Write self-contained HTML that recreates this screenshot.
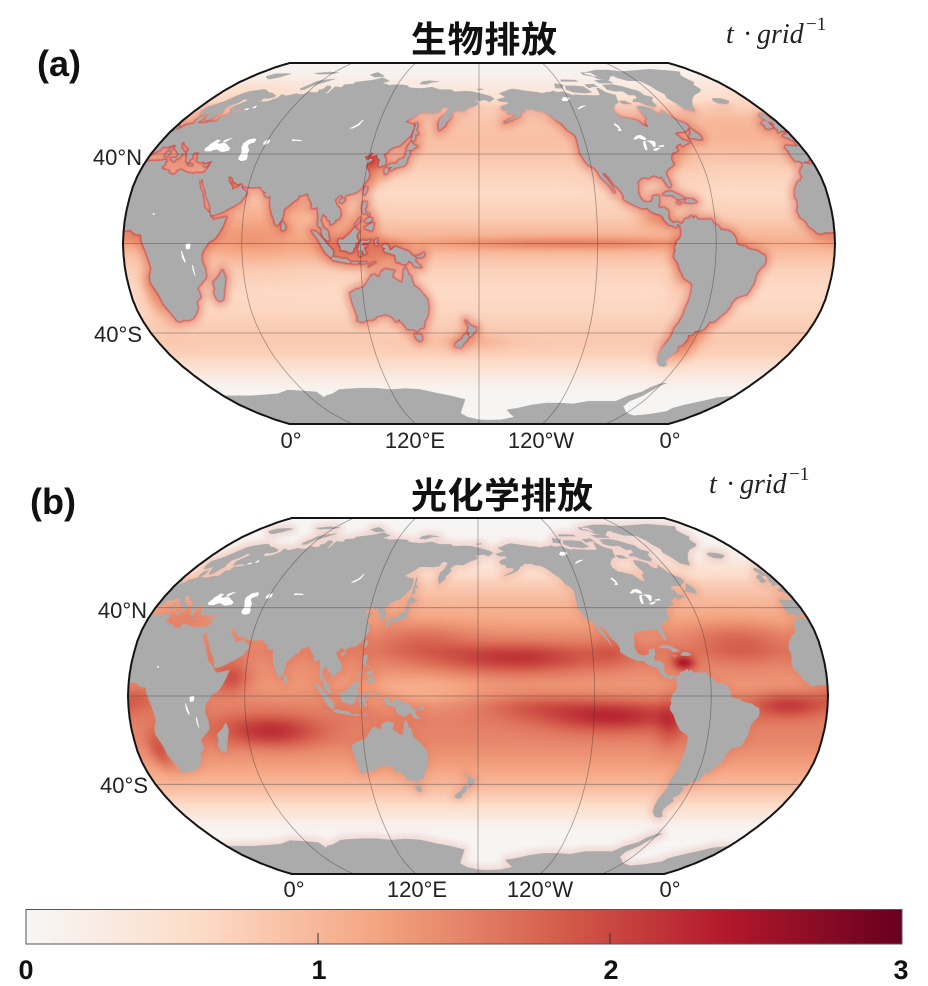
<!DOCTYPE html>
<html><head><meta charset="utf-8">
<style>
html,body{margin:0;padding:0;background:#fff;}
#wrap{position:relative;width:928px;height:986px;overflow:hidden;background:#fff;}
#cv{position:absolute;left:0;top:0;}
#sv{position:absolute;left:0;top:0;}
</style></head>
<body><div id="wrap">
<canvas id="cv" width="928" height="986"></canvas>
<svg id="sv" width="928" height="986" viewBox="0 0 928 986" xmlns="http://www.w3.org/2000/svg">
<defs id="defs">
  <linearGradient id="cb" x1="0" x2="1" y1="0" y2="0">
    <stop offset="0" stop-color="#f7f7f7"/>
    <stop offset="0.2" stop-color="#fddbc7"/>
    <stop offset="0.4" stop-color="#f4a582"/>
    <stop offset="0.6" stop-color="#d6604d"/>
    <stop offset="0.8" stop-color="#b2182b"/>
    <stop offset="1" stop-color="#67001f"/>
  </linearGradient>
  <linearGradient id="mgA" gradientUnits="userSpaceOnUse" x1="0" y1="63" x2="0" y2="424">
    <stop offset="0" stop-color="#000"/>
    <stop offset="0.105" stop-color="#000"/>
    <stop offset="0.17" stop-color="#fff"/>
    <stop offset="0.77" stop-color="#fff"/>
    <stop offset="0.85" stop-color="#000"/>
    <stop offset="1" stop-color="#000"/>
  </linearGradient>
  <mask id="maskA" maskUnits="userSpaceOnUse" x="0" y="0" width="928" height="470">
    <rect x="0" y="0" width="928" height="470" fill="url(#mgA)"/>
  </mask>
  <filter id="bl" x="-5%" y="-5%" width="110%" height="110%"><feGaussianBlur stdDeviation="0.9"/></filter>
  <filter id="bw" x="-5%" y="-5%" width="110%" height="110%"><feGaussianBlur stdDeviation="3.5"/></filter>
</defs>
<g id="mapA"></g>
<g id="mapB"></g>

<!-- panel a text -->
<text x="37" y="76" font-family="'Liberation Sans',Arial,sans-serif" font-weight="bold" font-size="36" fill="#111">(a)</text>
<text x="411" y="52" font-family="'Liberation Sans','Noto Sans CJK SC',sans-serif" font-weight="bold" font-size="36" fill="#111" textLength="146" lengthAdjust="spacing">生物排放</text>
<text font-family="'Liberation Serif',serif" font-style="italic" font-size="28" fill="#222"><tspan x="726" y="43">t</tspan><tspan x="743" y="43" font-style="normal">·</tspan><tspan x="757" y="43">grid</tspan><tspan x="806" y="30" font-size="19" font-style="normal">−1</tspan></text>
<g font-family="'Liberation Sans',Arial,sans-serif" font-size="22" fill="#222">
  <text x="142" y="165" text-anchor="end">40°N</text>
  <text x="142" y="342" text-anchor="end">40°S</text>
  <text x="291" y="448" text-anchor="middle">0°</text>
  <text x="415" y="448" text-anchor="middle">120°E</text>
  <text x="541" y="448" text-anchor="middle">120°W</text>
  <text x="670" y="448" text-anchor="middle">0°</text>
</g>

<!-- panel b text -->
<text x="30" y="514" font-family="'Liberation Sans',Arial,sans-serif" font-weight="bold" font-size="36" fill="#111">(b)</text>
<text x="411" y="508" font-family="'Liberation Sans','Noto Sans CJK SC',sans-serif" font-weight="bold" font-size="36" fill="#111" textLength="182" lengthAdjust="spacing">光化学排放</text>
<text font-family="'Liberation Serif',serif" font-style="italic" font-size="28" fill="#222"><tspan x="709" y="493">t</tspan><tspan x="726" y="493" font-style="normal">·</tspan><tspan x="740" y="493">grid</tspan><tspan x="789" y="480" font-size="19" font-style="normal">−1</tspan></text>
<g font-family="'Liberation Sans',Arial,sans-serif" font-size="22" fill="#222">
  <text x="147" y="618" text-anchor="end">40°N</text>
  <text x="148" y="793" text-anchor="end">40°S</text>
  <text x="294" y="897" text-anchor="middle">0°</text>
  <text x="417" y="897" text-anchor="middle">120°E</text>
  <text x="540" y="897" text-anchor="middle">120°W</text>
  <text x="670" y="897" text-anchor="middle">0°</text>
</g>

<!-- colorbar -->
<rect x="26" y="909.5" width="876" height="34.5" fill="url(#cb)" stroke="#555" stroke-width="1"/>
<line x1="318" y1="933" x2="318" y2="944" stroke="#333" stroke-width="1"/>
<line x1="610" y1="933" x2="610" y2="944" stroke="#333" stroke-width="1"/>
<g font-family="'Liberation Sans',Arial,sans-serif" font-weight="bold" font-size="27" fill="#111" text-anchor="middle">
  <text x="26" y="979">0</text>
  <text x="319" y="979">1</text>
  <text x="611" y="979">2</text>
  <text x="901" y="979">3</text>
</g>
</svg>
</div>
<script>
(function(){
const YT=[0,0.062,0.124,0.186,0.248,0.31,0.372,0.434,0.4958,0.5571,0.6176,0.6769,0.7346,0.7903,0.8435,0.8936,0.9394,0.9761,1.0];
const XT=[1,0.9986,0.9954,0.99,0.9822,0.973,0.96,0.9427,0.9216,0.8962,0.8679,0.835,0.7986,0.7597,0.7186,0.6732,0.6213,0.5722,0.5322];
function tab(T,lat){let a=Math.min(90,Math.abs(lat));let i=Math.floor(a/5);if(i>=18)return T[18];let t=(a-5*i)/5;return T[i]+(T[i+1]-T[i])*t;}
function latOf(Y){for(let i=0;i<18;i++){if(Y<=YT[i+1])return 5*(i+(Y-YT[i])/(YT[i+1]-YT[i]));}return 90;}
const MAPS=[{cx:479,cy:243.5,hw:356,hh:180.5,id:'A'},{cx:478,cy:696,hw:350,hh:178,id:'B'}];
function P(m,lon,lat){if(lon<0)lon+=360;const X=tab(XT,lat),Y=tab(YT,lat)*(lat<0?-1:1);return [m.cx+m.hw*X*(lon-180)/180, m.cy-m.hh*Y];}
function E(lon,a,b){const r=[];const s=a<b?1:-1;for(let t=a;s>0?t<=b:t>=b;t+=s)r.push(lon,t);if(r[r.length-1]!==b)r.push(lon,b);return r;}
function path(m,arr,close){let s='';for(let i=0;i<arr.length;i+=2){const p=P(m,arr[i],arr[i+1]);s+=(i?'L':'M')+p[0].toFixed(1)+' '+p[1].toFixed(1);}return s+(close===false?'':'Z');}

const AFEU=[0,5.6,3,6.3,6,4.3,9,4,9.5,1,11.8,-4.5,12.3,-6,13.5,-11,12,-15,11.8,-17.5,14.5,-23,15.2,-27,17,-30,18.3,-33.5,18.5,-34.3,20,-34.8,22,-34,25.6,-34,27.5,-33.3,30.5,-31,32.5,-28.5,32.6,-26,35.5,-24,35.3,-22,34.8,-20,36.5,-18.5,40.5,-15,40.5,-11,39.3,-8,39.2,-6,39.7,-4,41.5,-1.5,43.5,1,46,2,48,4.5,50,8,51.3,11.8,49,11.3,45,10.5,43.3,11.8,42.5,13.5,41,14.8,39.5,15.8,38.5,18.5,37.3,21,36.7,23,35.5,24,34,26.6,32.5,30,33.6,28.3,34.2,27.8,34.9,29.5,35.5,28,36.5,26,38.5,23.5,39.2,21.3,41,19,42.6,16.5,43.3,13,45,12.8,48.5,14,52,15.7,55.5,17.5,57.7,19,58.5,20.5,59.8,22.4,58.6,23.6,56.4,24.8,56.3,26.3,55,25.1,52,24,51.6,25.2,51,26,50,26.7,48.5,28.3,48,30,49.5,30,50.5,29.5,51.5,27.8,54,26.6,56.4,27.1,57.3,25.7,61.6,25.2,66.6,25.4,67.5,24,68.8,23.3,70.2,22.8,69,22.3,70.5,20.8,72.6,21.3,72.8,19,73.4,16,74.6,13,75.8,11,76.6,8.9,77.5,8.1,78.2,8.9,79.3,10.3,80,12.6,80.3,15.5,81.5,16.4,82.4,17,84.5,18.8,86.5,20,87,21.5,88.5,21.7,90,22,91.5,22.6,92.2,21,93,19.8,94.4,18,94.4,16,95.5,15.8,97.5,16.5,97.8,14.5,98.5,12,98.3,9.5,98.6,8,100.4,6.5,100.4,5,101.3,2.9,103.4,1.3,104.2,1.4,103.5,4,103.2,5.5,102.2,6.2,100.8,7,99.9,9.2,99.2,10.5,100,12.6,100.9,13.4,101.5,12.6,102.7,12,103,10.7,104.5,10.4,104.8,8.6,106.7,9.6,106.7,10.4,108.9,11.3,109.3,13,108.8,15.4,107,17,106,18.8,105.7,19.5,106.5,20.3,107.6,21.4,108.5,21.7,109.8,21.4,110.4,20.3,111,21.5,113,22.2,114.2,22.3,116.4,22.9,118.5,24.5,119.5,25.8,120.5,27.5,121.8,29.2,121.9,30.8,121.4,31.8,120.6,33,119.3,34.7,120.3,36,122.5,37.4,121,37.8,119,37.2,118,38.3,117.6,39,118.5,39.2,119.3,39.4,121,40.8,122.2,40.5,121.3,39,122.1,39.2,124.3,39.8,125.2,38,126.5,37.6,126.2,35,126.5,34.3,127.8,34.7,129.2,35.2,129.4,36,129.4,37.3,128.5,38.5,127.5,39.8,129.6,40.9,129.8,41.8,131.3,42.7,132.5,43.2,135.5,43.9,138.5,46.8,140.4,48.4,141.3,52.2,140.6,53.5,137.8,54,135.2,54.8,137.7,56.2,140.6,57.8,143,59.3,148,59.3,151,59.1,155,59.5,156.8,61.6,159,61.7,160.4,61,163.2,62.5,160,60.5,158.7,58,156.5,56.5,155.7,54,156.7,51,158,51.8,160,53.2,160,54.5,162.1,56.1,163.3,57.8,162.1,58.2,164.7,59.9,167,60.3,170.3,60,172.5,61,175,62,177.4,62.5,179,63,179.5,64.5,177.5,64.7,178.6,65.3,180,65,184,65.5,187,64.5,190.3,66.1,188,67.3,186,67.8,180.5,68.9,175,69.8,170,70.1,163,69.7,160,70.9,152,70.9,146,72.3,139,71.5,132,71.8,129,72.2,128,73.1,123,73.6,118,73.6,113.5,73.3,112,74,110,74,108,74.5,112,75.8,106,77.4,104.3,77.7,100,76.5,98,76.2,92,75.5,87,75,86.8,74,80.5,73.6,80.7,72.1,78,72.3,75.4,72.5,74.8,69,73.5,68.5,73.5,71.8,72,72.8,69,73,68.5,71,66.5,70.8,67,69.5,64.5,69.3,60.5,69.8,59,68.4,55,68.4,53.7,68.9,48,67.6,44,68.4,43.5,66.5,40,64.8,35,64.5,34.5,66.3,38,66.2,41,67,40.5,67.8,36,69.1,33,69.4,28.5,70.9,26,71,23.5,70.6,19,70,16,69,14,67.5,12.5,66,10.5,64.5,8,63.3,5,62,5,60.3,5.6,59,7,58,8,58.2,10.5,59.3,11,58.8,12,57.5,12.8,56,14,55.5,16,56.2,16.5,57.5,18.3,59.3,17.3,60.6,17.5,62.5,21,64,22.5,65.8,24.8,65.7,25.4,65,24.5,64.3,21.5,62.2,21.5,60.8,22.9,59.8,25.5,60.4,28.5,60.5,30.2,59.9,28,59.5,24,59.2,23.5,58.3,24.2,57.5,21.6,57.5,21,56.7,21.1,55.3,19.8,54.6,18.5,54.8,16.5,54.5,14.3,53.9,12.4,54.2,11,54,10.2,54.4,11,56,10.5,57.7,8.5,56.9,8.1,55.5,8.9,54,7,53.4,4.8,53,4.2,51.9,3.4,51.4,1.6,50.9,1.4,50.1,0.2,49.6]
.concat(E(0,49.5,39.8))
.concat([0.9,40.7,2.2,41.4,3.2,41.9,3.1,42.8,4,43.5,5.5,43.2,7,43.6,8.8,44.4,10.2,43.9,10.5,42.9,11.2,42.4,12.2,41.7,13.5,41.2,14,40.8,15.6,40,15.7,38.3,15.65,38,16.1,38,16.6,38.4,17.1,39.1,16.5,39.7,16.9,40.4,18.5,40.1,18,40.7,16,41.5,15.9,41.9,14,42.6,13.6,43.5,12.3,44.5,12.4,45.4,13.7,45.6,13.9,44.9,15.2,44.2,16.4,43.5,17.6,43,19.4,42,19.4,41,19.4,40.3,20.5,39.3,21.2,38.3,21.7,36.9,22.5,36.5,23.2,36.4,23.1,37.7,24,38.1,22.9,39.4,23.3,39.9,22.8,40.6,24,40.8,26,40.8,26.2,40.3,26.3,39,27.2,38.4,27.3,37,28.2,36.7,29.7,36.2,30.6,36.8,32.5,36.1,34.6,36.8,36,36.8,35.8,35.8,35.9,34.6,35.5,33.7,35,32.8,34.5,31.5,32.2,31.2,31.2,31.5,30,31.3,29,30.9,25.1,31.6,23.1,32.3,21.5,32.9,20.1,32.2,19.7,31,18.5,30.5,15.5,31.5,15.1,32.4,13,32.8,11.2,33.2,10.1,34.2,11.1,35.2,10.5,36.8,11,37,9.8,37.3,8.5,36.9,5,36.8,3,36.8,1,36.5])
.concat(E(0,35.9,5.6));

const AFW=[-0.001,35.8,-2,35.1,-5.3,35.9,-6,35.5,-6.8,34,-8.5,33.3,-9.8,31.4,-9.6,29.9,-11.5,28,-13,27.5,-14.5,26,-16,24,-17,21,-16.2,19.5,-16.3,18,-16.7,16,-17.5,14.7,-16.7,13,-16.7,12,-15,11,-13.5,9.5,-12.5,7.5,-11,6.8,-9,5,-7.5,4.4,-5,5,-3,5.1,-1.5,5,-0.001,5.6].concat(E(360,5.6,35.8));
const IBW=[-0.001,49.5,-1.2,49.4,-1.6,49.7,-1.9,48.7,-3,48.8,-4.7,48.4,-4.3,47.8,-2.5,47.3,-2.2,46.8,-1.2,46,-1.2,44.6,-1.5,43.4,-3,43.4,-5.5,43.5,-8,43.7,-9.2,43,-8.8,42,-8.8,41,-9.5,39,-8.8,37.9,-9,37,-7.5,37.1,-6.3,36.8,-5.6,36,-4.5,36.7,-2,36.7,-1.6,37.4,-0.7,37.6,-0.5,38.3,-0.3,39.4,-0.001,39.8].concat(E(360,39.8,49.5));
const GBW=E(360,50.8,53.6).concat([-0.5,54.5,-1.5,55.5,-2,56.2,-2,57.6,-3.5,58.6,-5,58.6,-6.2,57.5,-5.5,56,-4.8,54.8,-3.2,54.9,-3.3,54.2,-3,53.3,-4.6,53.2,-4.2,52.3,-5.2,51.8,-3,51.4,-4.3,51.2,-5.7,50,-3,50.6,-1,50.7]);
const GBE=E(0,53.6,50.8).concat([1.4,51.3,1.7,52.6,0.3,53.4]);

const NA=[-141,69.6,-148,70.3,-152,70.9,-156.5,71.3,-160,70.6,-163,69.6,-166,68.9,-163.5,67.7,-162,66.9,-164.5,66.5,-168,65.6,-166,64.7,-163,64.5,-161,64.4,-160.8,63.6,-163,63,-165,62.5,-166,61.5,-165,60.5,-162,59.9,-162,58.7,-158,58.7,-157,57.6,-162,55.6,-164.5,54.6,-160,55.7,-156,57,-154,58,-153,59.5,-151.5,59.5,-150,61,-148,60.5,-146,60.9,-143,60,-140,59.8,-137.5,58.8,-136,58,-134,56.5,-132,55,-130.5,54.3,-129,52.5,-128,51,-125.5,49.5,-124.3,48.3,-124,46.5,-124.2,43,-124.3,40.3,-123,38,-122.5,37,-121,35,-118.5,34,-117.1,32.5,-116,30,-114,28,-112,26,-109.9,22.9,-110.5,24.5,-112.5,28,-114.5,30.5,-114.8,31.8,-113,31.3,-111,29,-109.5,26.5,-108,25.3,-106,23,-105.3,21.5,-105.5,20,-104,19,-101,17.5,-98,16.2,-96,15.7,-94,16.1,-92.5,14.6,-91,13.9,-89,13.3,-87.5,13,-86,11.5,-85.7,10.4,-85,9.8,-83.5,8.4,-82,8.2,-80,7.3,-79.5,8.9,-78,8.3,-77.4,7.8,-77.3,8.6,-79.5,9.5,-81.5,9,-83.3,10.5,-83.7,11,-83.5,14.5,-85.5,16,-88,15.8,-88.3,17.5,-87.5,18.5,-87.4,21.5,-90.3,21,-90.5,19.5,-91.5,18.5,-94,18.2,-95.9,18.8,-97.2,20.5,-97.8,22.5,-97.4,25.5,-97.2,27.5,-95,29.2,-93.5,29.7,-91,29.3,-89,30.2,-88,30.6,-85.3,29.7,-84,30,-82.7,28,-81.8,26,-81,25.1,-80.1,25.8,-80.5,28.2,-81.3,30.5,-81,32,-78.5,33.8,-76.5,34.7,-75.5,35.5,-76,37,-75.5,38.5,-74,40.5,-72,41,-70,41.6,-70.6,43.1,-68,44.4,-66.5,44.9,-66,43.6,-63.5,44.6,-61,45.3,-64.5,46.3,-65,47.5,-66.4,49.2,-67,49.3,-64,50.2,-60,50.2,-57,51.5,-55.7,52.2,-56,53.8,-58,54.5,-60,55.5,-61.5,56.5,-62.5,58,-64.3,60.3,-65,59,-67,58.3,-68.5,58.8,-69.5,59.5,-70,61,-72,61.6,-74,62.2,-77.5,62.5,-78.2,60.8,-77.5,58.5,-76.6,56.5,-79,55,-79.5,52,-82,52.9,-84,55.2,-87.5,56,-92.5,57,-94.5,58.8,-94,61,-92,62.5,-90.5,63.5,-88,64,-87,66.5,-86,68,-89,68.8,-91.5,69.5,-94,71.8,-95.5,71.8,-96.5,68.3,-98,67.8,-102,67.8,-108,68,-110,68,-114,68.3,-115,67.8,-118,68.8,-121,69.8,-125,69.5,-128,70.2,-130,69.6,-133,69.5,-136,68.9,-139,69.5];
const SA=[-77.3,8.6,-76,9.5,-75.5,10.5,-74.5,11,-73,11.3,-72,12.3,-71.3,11.8,-71.5,10.5,-70,12,-68.5,10.5,-66,10.6,-64,10.6,-62,10.7,-61.5,9.5,-60.5,8.5,-59,8,-57.5,6,-54,5.7,-52,4.7,-51,3.5,-50,1.7,-50,0,-48.5,-1,-45,-1.5,-44,-2.5,-41.5,-3,-39,-3.5,-37,-4.8,-35.2,-5.5,-34.8,-7.5,-35.3,-9.5,-37,-11,-38.5,-13,-39,-15,-39.2,-17.7,-40.5,-20.5,-41.5,-22.5,-43,-23,-44.5,-23.3,-46.5,-24,-48.5,-26.5,-48.7,-28.5,-50,-30.5,-51.5,-31.8,-53,-33.7,-54.5,-35,-56.5,-34.8,-57,-36.5,-57.5,-38,-59,-38.7,-62,-39,-62.3,-40.5,-65,-41,-64,-42.5,-65,-45,-67.5,-46.3,-65.8,-47.8,-68,-50,-69,-52,-68.5,-53,-66.5,-55,-68,-55.5,-71,-55,-74,-53,-75.5,-50,-75.3,-46.5,-74,-43.5,-73.5,-41,-73.6,-38,-72.5,-35.5,-71.5,-32.5,-71.4,-29,-70.5,-25.5,-70.2,-21.5,-70.3,-18.5,-71.5,-17.3,-75,-15.5,-76.3,-13.5,-77.5,-11.8,-79,-8.5,-81,-6.2,-81,-4.5,-80.3,-3.4,-80.8,-2,-80,0,-80,1,-78.8,1.5,-77.5,3.5,-77.4,6,-77.8,7.3];
const ANT=E(0,-90,-70).concat([10,-70,20,-70,30,-69.5,40,-69,50,-67,60,-67.5,68,-68,70,-71,72,-70,78,-69,85,-66.8,90,-66.5,100,-66,110,-66,120,-66.8,130,-66.2,140,-66.7,150,-68.5,160,-70,165,-71,170,-72,167,-77,165,-80,170,-83,180,-85,190,-85.5,200,-85,210,-83,205,-80,202,-78,210,-77,220,-75,230,-74,240,-74,250,-74.5,260,-73,270,-73,280,-73,285,-70,292,-68,295,-65.5,300,-63.5,303,-63.5,300,-65,298,-67,295,-70,290,-73,290,-76,300,-80,310,-82,320,-81,330,-79,330,-77,335,-75,345,-72.5,350,-71]).concat(E(360,-70,-90));

const ISL=[
[-73,78.2,-67,76,-58,75.7,-55,73,-54,70.5,-51.5,68.5,-53,66.5,-50.5,64,-48.5,61,-44,60,-43,60.5,-41,63,-37,65.7,-32,68,-25,69.7,-22,71,-22,73.5,-18.5,75,-19,77,-18.5,79,-12.5,81.7,-20,82.5,-32,83.6,-45,82.8,-55,82.2,-62,81.8,-67,80.5],
[-24,65.5,-22,66.4,-17,66.2,-14.5,65.5,-13.6,65,-15,64.2,-18,63.4,-22.5,63.8,-24,64.7],
[-6,52.2,-6.2,53.5,-6,54.3,-5.5,54.6,-6.2,55.2,-7.5,55.3,-8.5,54.6,-10,54.2,-9.5,53,-10.4,51.9,-9.6,51.5,-8,51.8],
[-62,66.8,-65,65,-64.8,62.8,-66.5,62,-71,62.8,-74.5,64.5,-78,64.5,-77,65.5,-73,66.5,-73,68,-77,68,-79,70,-85,70,-89,71,-89,73.5,-82,73.8,-76,72.7,-71,71,-68,70.3,-67,69.2,-66.5,68],
[-62,82,-70,83,-80,83,-90,81.5,-95,80,-90,79,-88,77,-80,76.5,-76,78.5,-72,78.8,-68,80.2],
[-86,78,-96,79.5,-96,81,-88,81],
[-80,74.5,-90,74.5,-92,76,-82,76.7],
[-101,69.5,-106,69,-114,69.5,-118,71,-117,73,-110,73,-104,72.5],
[-120,71.5,-125,71.8,-124,74.3,-118,73.5],
[-105,75.5,-118,75.5,-117,76.5,-106,76.3],
[-97,72.5,-101,71.8,-102,73.7,-95,74,-94,72.5],
[-80,63.5,-86,63.5,-87,65,-83,65],
[-59.5,47.6,-53,46.6,-52.8,48.5,-55.5,51.5,-57,49.5],
[-85,21.9,-83,23,-80.5,23.2,-77.5,22,-74.2,20.3,-77.7,19.9,-80,21.6,-82.5,21.7],
[-74.4,18.5,-72.8,19.9,-70,19.7,-68.4,18.6,-71,18.2],
[-78.3,18.4,-76.3,18.2,-76.8,17.8,-78.2,18.2],
[113.5,-22,114,-26,115,-30,115.7,-33.3,115,-34.3,117.9,-35.1,120,-34,123.6,-33.9,126,-32.3,131,-31.5,134,-32.8,135.7,-34.9,137.5,-33.5,138,-34.8,139.5,-35.8,141,-38.2,144,-38.2,146.3,-39.1,148,-37.8,150,-37.5,150.8,-34.5,152.5,-32.5,153.5,-28.5,153,-25,150.8,-22.5,149,-20.5,146.3,-18.8,145.4,-16,145.3,-14.8,143.8,-14,143.5,-12.7,142.5,-10.7,141.6,-12.8,141.5,-15,140.8,-17.5,139.3,-17.4,137,-15.9,135.5,-15,135.9,-13.3,136.8,-12.2,135,-12,132.6,-11.5,131.2,-12.2,130,-13,129.5,-14.9,128,-15,126.8,-13.9,125,-14.5,123.5,-16.5,122.2,-18,121,-19.5,118.5,-20.3,116.5,-20.7,114.6,-21.8],
[144.6,-40.7,148.3,-40.9,148,-43.2,146.5,-43.6,145.2,-42.2],
[172.7,-34.5,174.5,-36,175.5,-37,178.5,-37.7,177.9,-39.2,176.8,-40.2,175.2,-41.6,174.6,-41.2,175,-39.8,173.8,-39.2,174.6,-37.5],
[172.7,-40.5,174.3,-41.3,173.8,-42.3,172.7,-43.7,171.2,-44.5,170.6,-45.9,169,-46.6,166.5,-46,166.8,-45.1,168.3,-44,170.6,-42.9,171.5,-41.5],
[95.3,5.6,97.5,5.2,100.3,2.5,103.7,-1,106,-3.2,105.8,-5.8,104.5,-5.9,102.3,-4,100.4,-1,98.8,1.6],
[105.2,-6.8,106.1,-6,108.3,-6.3,110.4,-6.9,112.6,-6.9,114.4,-7.8,114.5,-8.7,111.5,-8.3,108.5,-7.8,106.4,-7.4],
[115,-8.2,116,-8.4,119,-8.3,118.5,-8.9,115.5,-8.9],
[119.8,-8.5,123,-8.3,122,-8.8,119.8,-8.8],
[124,-10.2,125.2,-9.1,127.3,-8.4,125,-9.3],
[109,1.5,109.6,2,111,1.6,113,3.1,115.5,5.2,117,7,119.2,5.3,118,4.3,118,2.5,119,0.9,117.5,0,117.5,-1,116.5,-2.3,116,-3.7,114.5,-4,113,-3.2,111.7,-3,110.2,-2.9,110,-1.3,109,0],
[119.5,-5.5,119.5,-3.5,118.8,-2.8,119.8,0,120,0.7,121,1.3,123,1,124.5,1.4,125.2,1.6,124,0.4,121.5,0.5,120.3,-0.8,121.5,-1,123.4,-0.9,121.5,-1.9,122.8,-4.3,122,-4.8,121,-2.8,120.4,-3,120.4,-5.5],
[127.5,1.5,128.5,2,128,0.5,128.8,-0.8,127.5,-0.5],
[131,-1.3,132.3,-0.4,134,-0.9,135,-3.3,137.8,-1.5,141,-2.6,144.5,-3.8,146,-5.4,147.7,-6.2,147.5,-8,149.5,-9.6,150.7,-10.5,149.3,-10.3,147.2,-10.2,146,-8.2,144.2,-7.6,143.3,-9.1,141,-9.1,139.2,-8.1,138.3,-8.4,137.6,-5.1,135,-4.4,133.5,-3.8,132.7,-4,132,-2.8,133,-2.3,131.3,-1.6],
[148.3,-5.5,150,-5.5,152,-4.2,152.2,-5.5,150.5,-6.2,148.3,-5.8],
[120.6,18.5,122.3,18.5,122.2,16.5,121.6,15.5,122,14,124,13.2,124,12.5,123,13.5,121,13.6,120.6,14.5,120.3,16.5],
[122,7,123.5,7.8,124.5,8.5,126.5,9.2,126.2,7,125.5,5.7,124.2,6.2],
[122,10,124,11.5,125.7,11.2,125,10,123.5,9.3],
[117.2,8.4,119.5,11.4,119.7,10.5,117.5,8.2],
[120.1,23,121,25.1,122,25,121.5,23,120.8,21.9],
[108.6,19.2,110.1,20.1,111,19.6,109.6,18.2,108.6,18.5],
[130.9,34.3,132.5,35.5,135.5,35.6,136.8,37.2,139,38,140,39.6,140,41.2,141.5,41.3,142,39.5,141,38.3,140.8,36,140,35,138.5,34.6,136.8,34.2,135.1,33.8,133,34.3,131.5,34],
[129.7,33.3,130.9,33.9,131.9,32.6,131.2,31.3,130.2,31.2],
[132.5,33,133.5,33.9,134.6,34.1,134.2,33.2,133,32.8],
[140,41.4,140.2,43.2,141.6,45.4,143,44.3,145.5,43.3,144,42.9,143.2,42,141,41.8],
[142,46,143.5,46.5,143,49,144.7,49,143,51,143.2,53.3,142.5,54.3,142.2,51,141.8,48],
[79.9,6.2,79.8,8.2,80.2,9.8,81.2,8.5,81.8,7.5,81.6,6.4,80.6,5.9],
[49.3,-12,50.4,-15.4,49.8,-17,47,-25,45.2,-25.6,44,-24.8,43.3,-22,44.3,-20,44,-17.2,46,-15.8,47.5,-14.5],
[52,71.5,55,73.5,57,75.5,62,76.5,68.5,77,64,75,58,73,56,71,53,70.7],
[11,78.5,14,80,18,80.2,22,80.3,27,80,23,78,19,77,16,77],
[45,80.5,55,81.5,64,81,60,80,50,79.8],
[92,79.5,96,81.2,101,79.8,105,78.5,98,78],
[136,74,141,73.8,145,75,150,75.3,142,76,137,75.3],
[178.5,71,182,71.4,183,71,180,70.8],
[12.4,38,15.6,38.3,15,36.7],
[8.3,41,9.7,41,9.6,39,8.5,39],
[8.6,43,9.5,42.9,9.3,41.4,8.7,41.7],
[23.5,35.3,26.2,35.2,25.5,35,24,35.2],
[32.3,35,34.5,35.6,33.9,34.6,32.5,34.7],
GBW, GBE
];

const LAKES=[
[47,44.8,49,46.6,51.8,47.1,53.1,46.6,53.2,45.3,51,44.6,50.5,43.8,51.5,42.8,52.7,41.7,52.9,40.1,53.8,38.9,53.9,37.3,51.5,36.8,49.5,37.5,49,38.5,49.3,40.3,48.5,41.8,47.5,42.9,47.3,44],
[27.5,42.4,28,41.6,29,41.2,31.5,41.2,33.5,42,35,42.05,36.5,41.3,38.5,40.9,41.5,41.5,41.6,42.6,40,43.4,38.2,44.4,37,44.9,36.5,45.2,35.5,45.1,34.8,44.8,33.5,44.5,32.5,45.4,33.5,46,31.8,46.5,30.8,46.5,30.2,45.8,29.7,45.2,28.8,44.5,28.6,43.6,27.8,42.9],
[35,45.4,36.6,45.4,38.3,46.7,39.3,47.2,37.5,47.1,35.3,46.3],
[58.3,45.5,59.5,46.5,61.2,46.5,61.6,45,60,44.1,58.5,44.3],
[73.5,46.6,77,46.5,79.2,46.3,79,45.8,76,46.0,74,45.8],
[103.8,51.6,105.5,51.7,108.5,53.2,109.8,55.7,109.2,55.8,107.3,53.6,105.3,52.6,103.8,51.9],
[-92.1,46.7,-89.2,48.4,-86.5,48.7,-84.8,47.5,-84.6,46.5,-86.5,46.4,-88.5,47.2,-90.5,46.6],
[-87.8,41.7,-86.6,41.8,-86.2,43.5,-86,45.2,-85,45.8,-86.6,45.9,-87.6,44.8,-87.9,43],
[-84.6,46.1,-82,46.1,-80.3,45.7,-80.5,44.6,-81.7,43,-82.5,43.1,-82.8,44.2,-83.3,45.1,-84.4,45.7],
[-83.5,41.7,-82,41.4,-80,42.2,-78.9,42.8,-79.5,42.8,-81.5,42.6,-83.2,42.1],
[-79.8,43.3,-77,43.3,-76.2,43.5,-76.4,44.2,-77.5,44.0,-79.4,43.7],
[-125,65.3,-123,66.9,-120,66.9,-118.5,66.2,-121,65,-123.5,64.8],
[-117,61.1,-114,62.4,-110.5,62.9,-111.5,62.3,-114,61.6,-116.5,60.8],
[-98.8,50.5,-96.5,50.6,-96.8,52.8,-98.5,54.2,-99.3,53.5,-97.5,51.7],
[31.7,-0.3,33.9,0.2,34.1,-1.1,33.5,-2.5,31.8,-2.6,31.6,-1.3],
[29.2,-3.4,29.6,-3.3,31.2,-8,30.8,-8.7,29.5,-6.5],
[34.2,-9.6,34.7,-9.7,35.3,-14.4,34.8,-14.2,34.3,-12],
[13.5,13.5,14.6,13.6,14.6,12.8,13.8,12.9],
[30.5,60.3,32.8,60.6,32.8,61.3,31,61.3],
[34.5,61.2,36.5,61.5,35.5,62.8,34.7,62.2]
];

const LAND=[AFEU,AFW,IBW,NA,SA,ANT].concat(ISL);
const FRAME=E(0,-90,90).concat([360,90]).concat(E(360,90,-90)).concat([0,-90]);

const NS='http://www.w3.org/2000/svg';
function el(tag,attrs,parent){const e=document.createElementNS(NS,tag);for(const k in attrs)e.setAttribute(k,attrs[k]);if(parent)parent.appendChild(e);return e;}
const defs=document.getElementById('defs');
for(const m of MAPS){
  const g=document.getElementById('map'+m.id);
  const fr=path(m,FRAME);
  const cp=el('clipPath',{id:'clip'+m.id},defs);el('path',{d:fr},cp);
  const inner=el('g',{'clip-path':'url(#clip'+m.id+')'},g);
  const landD=LAND.map(a=>path(m,a)).join('');
  if(m.id==='A'){
    const cg=el('g',{mask:'url(#maskA)'},inner);
    el('path',{d:landD,fill:'none',stroke:'#d6604d','stroke-width':'12','stroke-linejoin':'round',opacity:'0.4',filter:'url(#bw)'},cg);
    el('path',{d:landD,fill:'none',stroke:'#b2182b','stroke-width':'3','stroke-linejoin':'round',opacity:'0.5',filter:'url(#bl)'},cg);
  } else {
    el('path',{d:landD,fill:'none',stroke:'#d6604d','stroke-width':'8','stroke-linejoin':'round',opacity:'0.2',filter:'url(#bw)'},inner);
  }
  el('path',{d:landD,fill:'#ababab',stroke:'#ababab','stroke-width':'0.4'},inner);
  el('path',{d:LAKES.map(a=>path(m,a)).join(''),fill:'#ffffff'},inner);
  let gd='';
  for(const L of [60,120,180,240,300]){const arr=[];for(let t=-90;t<=90;t+=2)arr.push(L,t);gd+=path(m,arr,false);}
  for(const la of [-40,0,40]){gd+=path(m,[0,la,360,la],false);}
  el('path',{d:gd,fill:'none',stroke:'#333','stroke-opacity':'0.45','stroke-width':'0.8'},inner);
  el('path',{d:fr,fill:'none',stroke:'#141414','stroke-width':'2'},g);
}

/* ---------- emission field ---------- */
const FA={p:[[90,0.06],[80,0.12],[70,0.35],[62,0.65],[55,0.85],[47,0.9],[40,0.85],[32,0.7],[22,0.6],[12,0.75],[5,0.95],[0,1.05],[-5,0.9],[-12,0.7],[-22,0.6],[-30,0.65],[-37,0.75],[-44,0.8],[-50,0.7],[-55,0.5],[-60,0.28],[-65,0.12],[-70,0.05],[-90,0.02]],
 b:[[225,0,50,2.3,0.45],[20,70,25,5,0.2],[330,52,25,8,0.15],[65,8,20,12,0.35],[88,17,6,4,0.3],[122,36.5,4,3,1.3],[124,29,4,3,0.5],[112,-3,10,4,0.45],[130,-5,8,4,0.45],[115,10,6,8,0.25],[298,-45,5,7,0.55],[12,-22,4,8,0.55],[2,3,8,3,0.35],[270,11,6,3,0.45],[283,-12,4,8,0.35],[285,40,8,4,0.3],[175,-44,14,3,0.25],[51,27,3,2,0.7],[18,36,10,4,0.2],[265,25,15,6,0.15]]};
const FB={p:[[90,0.02],[75,0.05],[65,0.18],[58,0.45],[50,0.78],[42,1.0],[35,1.15],[28,1.35],[20,1.48],[12,1.38],[5,1.32],[0,1.38],[-5,1.48],[-12,1.52],[-20,1.47],[-30,1.28],[-40,1.0],[-48,0.65],[-53,0.4],[-58,0.18],[-63,0.06],[-90,0.02]],
 b:[[200,17,30,5,0.72],[150,25,18,6,0.3],[250,-9,25,5,0.75],[210,-5,20,4,0.3],[72,-16,18,5,0.72],[52,8,7,5,0.6],[287,15,4,2.5,1.0],[318,24,18,7,0.38],[340,-4,14,4,0.65],[12,-25,4,6,0.5],[150,2,20,6,-0.25],[280,-12,5,8,0.4],[5,0,8,4,0.3],[20,36,12,4,0.3],[250,20,8,5,0.25]]};
function prof(T,lat){for(let i=0;i<T.length-1;i++){if(lat<=T[i][0]&&lat>=T[i+1][0]){const t=(T[i][0]-lat)/(T[i][0]-T[i+1][0]);return T[i][1]+(T[i+1][1]-T[i][1])*t;}}return T[T.length-1][1];}
const CM=[[0,247,247,247],[0.2,253,219,199],[0.4,244,165,130],[0.6,214,96,77],[0.8,178,24,43],[1,103,0,31]];
function cmap(v){let t=Math.max(0,Math.min(1,v/3));for(let i=0;i<5;i++){if(t<=CM[i+1][0]){const u=(t-CM[i][0])/(CM[i+1][0]-CM[i][0]);return [CM[i][1]+(CM[i+1][1]-CM[i][1])*u,CM[i][2]+(CM[i+1][2]-CM[i][2])*u,CM[i][3]+(CM[i+1][3]-CM[i][3])*u];}}return [103,0,31];}
const cv=document.getElementById('cv');const ctx=cv.getContext('2d');
const img=ctx.createImageData(928,986);const D=img.data;
for(const m of MAPS){
  const F=m.id==='A'?FA:FB;
  const y0=Math.floor(m.cy-m.hh)-1,y1=Math.ceil(m.cy+m.hh)+1;
  const x0=Math.floor(m.cx-m.hw)-1,x1=Math.ceil(m.cx+m.hw)+1;
  for(let py=y0;py<=y1;py++){
    const ny=(m.cy-(py+0.5))/m.hh;const ay=Math.abs(ny);if(ay>1)continue;
    const lat=(ny<0?-1:1)*latOf(ay);const X=tab(XT,lat);const pr=prof(F.p,lat);
    for(let px=x0;px<=x1;px++){
      const nx=((px+0.5)-m.cx)/m.hw;const lon=180+nx/X*180;if(lon<0||lon>360)continue;
      let v=pr;
      for(const b of F.b){let d=lon-b[0];if(d>180)d-=360;if(d<-180)d+=360;const q=(d/b[2])*(d/b[2])+((lat-b[1])/b[3])*((lat-b[1])/b[3]);if(q<25)v+=b[4]*Math.exp(-0.5*q);}
      const c=cmap(v);const k=(py*928+px)*4;D[k]=c[0];D[k+1]=c[1];D[k+2]=c[2];D[k+3]=255;
    }
  }
}
ctx.putImageData(img,0,0);
})();
</script>
</body></html>
